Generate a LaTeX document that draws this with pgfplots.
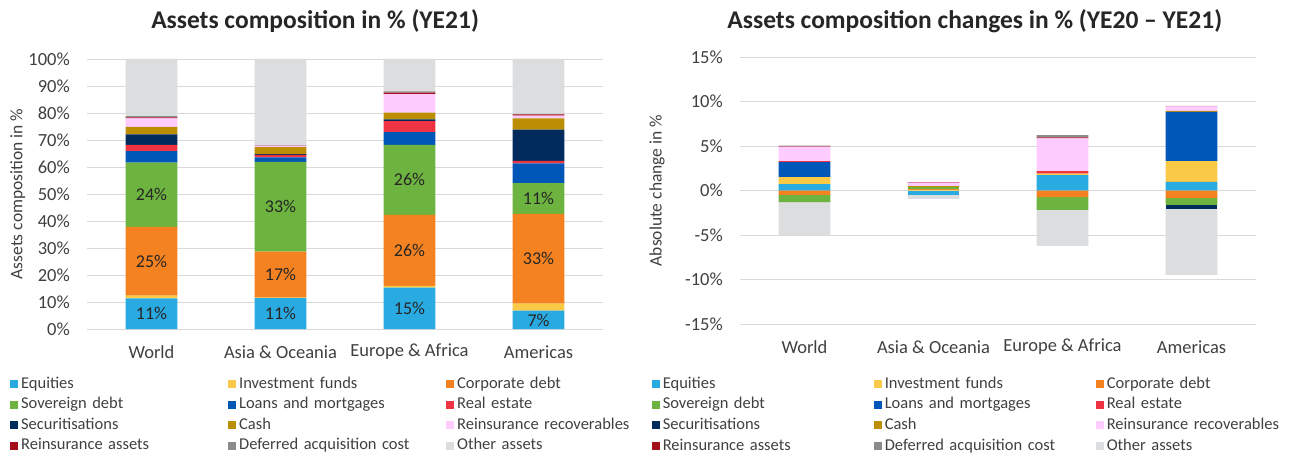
\documentclass[border=0pt]{standalone}
\usepackage{pgfplots}
\pgfplotsset{compat=1.18}
\usepackage{fontspec}
\setmainfont{Carlito}
\definecolor{cEq}{RGB}{41,170,225}
\definecolor{cIF}{RGB}{250,202,70}
\definecolor{cCorp}{RGB}{245,130,32}
\definecolor{cSov}{RGB}{109,179,63}
\definecolor{cLoan}{RGB}{0,87,184}
\definecolor{cRE}{RGB}{238,51,66}
\definecolor{cSec}{RGB}{0,43,92}
\definecolor{cCash}{RGB}{187,142,4}
\definecolor{cRec}{RGB}{255,204,255}
\definecolor{cRA}{RGB}{165,14,28}
\definecolor{cDAC}{RGB}{140,140,140}
\definecolor{cOth}{RGB}{220,221,223}
\definecolor{txt}{RGB}{64,64,64}
\newcommand\fs{\fontsize{16.5bp}{19bp}\selectfont}
\newcommand\tfs{\fontsize{18.5bp}{21bp}\selectfont}
\pgfplotsset{
  sq/.style={legend image code/.code={\fill[fill=#1] (0bp,-4bp) rectangle (8bp,4bp);}},
  base/.style={
    scale only axis, width=516bp, xmin=-0.5, xmax=3.5,
    xtick={0,1,2,3}, xticklabels={World, Asia \& Oceania, Europe \& Africa, Americas},
    axis line style={draw=none}, major tick length=0pt,
    ymajorgrids, grid style={color=black!15, line width=0.9bp},
    tick label style={font=\tfs, text=txt},
    xticklabel style={anchor=center, yshift=-23bp},
    yticklabel style={anchor=east, inner sep=0pt, xshift=-17bp},
    ybar stacked, bar width=0.4,
    every axis plot/.append style={draw=none, forget plot},
    legend columns=3, legend cell align=left,
    legend style={draw=none, fill=none, anchor=north west, inner sep=0pt, outer sep=0pt,
      column sep=0pt, row sep=0pt,
      nodes={font=\fs, text=txt, inner xsep=3bp, inner ysep=3.3bp, text height=11bp, text depth=3bp, text width=204bp, align=left}},
    clip=false,
  },
  overlay/.style={scale only axis, width=516bp, xmin=-0.5, xmax=3.5, hide axis, clip=false},
}
\newcommand\leg{%
  \addlegendimage{sq=cEq}\addlegendentry{Equities}
  \addlegendimage{sq=cIF}\addlegendentry{Investment funds}
  \addlegendimage{sq=cCorp}\addlegendentry{Corporate debt}
  \addlegendimage{sq=cSov}\addlegendentry{Sovereign debt}
  \addlegendimage{sq=cLoan}\addlegendentry{Loans and mortgages}
  \addlegendimage{sq=cRE}\addlegendentry{Real estate}
  \addlegendimage{sq=cSec}\addlegendentry{Securitisations}
  \addlegendimage{sq=cCash}\addlegendentry{Cash}
  \addlegendimage{sq=cRec}\addlegendentry{Reinsurance recoverables}
  \addlegendimage{sq=cRA}\addlegendentry{Reinsurance assets}
  \addlegendimage{sq=cDAC}\addlegendentry{Deferred acquisition cost}
  \addlegendimage{sq=cOth}\addlegendentry{Other assets}}
\begin{document}
\begin{tikzpicture}
\useasboundingbox (0,0) rectangle (1291bp,454bp);
% ---------------- left chart
\begin{axis}[base, at={(87bp,125bp)}, anchor=south west, height=270bp,
  ymin=0, ymax=100, ytick={0,10,...,100},
  yticklabel={\pgfmathparse{int(\tick)}\pgfmathresult\%},
  ylabel={Assets composition in \%},
  every axis y label/.style={at={(axis description cs:-0.134,0.5)}, rotate=90, anchor=center,
    font=\fontsize{17.5bp}{20bp}\selectfont, text=txt},
  title={Assets composition in \% (YE21)},
  every axis title/.style={at={(axis description cs:0.442,1.141)}, anchor=center,
    font=\bfseries\fontsize{25.5bp}{28bp}\selectfont, text=black!85},
  legend style={at={(axis description cs:-0.149,-0.166)}}]
\addplot[fill=cEq]   coordinates {(0,11.3) (1,11.4) (2,15.3) (3,6.8)};
\addplot[fill=cIF]   coordinates {(0,1.1) (1,0.2) (2,0.7) (3,2.6)};
\addplot[fill=cCorp] coordinates {(0,25.4) (1,17.1) (2,26.3) (3,33.2)};
\addplot[fill=cSov]  coordinates {(0,23.8) (1,33.2) (2,25.9) (3,11.4)};
\addplot[fill=cLoan] coordinates {(0,4.3) (1,1.7) (2,4.7) (3,7.3)};
\addplot[fill=cRE]   coordinates {(0,2.3) (1,0.9) (2,4.1) (3,1.0)};
\addplot[fill=cSec]  coordinates {(0,3.9) (1,0.3) (2,0.6) (3,11.5)};
\addplot[fill=cCash] coordinates {(0,2.8) (1,2.6) (2,2.5) (3,4.2)};
\addplot[fill=cRec]  coordinates {(0,3.1) (1,0.5) (2,6.9) (3,1.0)};
\addplot[fill=cRA]   coordinates {(0,0.4) (1,0.1) (2,0.5) (3,0.5)};
\addplot[fill=cDAC]  coordinates {(0,0.4) (1,0.1) (2,0.5) (3,0.2)};
\addplot[fill=cOth]  coordinates {(0,21.2) (1,31.9) (2,12.0) (3,20.3)};
\leg
\end{axis}
\begin{axis}[overlay, at={(87bp,125bp)}, anchor=south west, height=270bp, ymin=0, ymax=100]
\addplot[draw=none, mark=none, nodes near coords, point meta=explicit symbolic,
  every node near coord/.style={anchor=center, font=\fontsize{18bp}{20bp}\selectfont, text=black!85}]
  coordinates {(0,5.65)[11\%] (1,5.7)[11\%] (2,7.65)[15\%] (3,3.3)[7\%]
               (0,25.1)[25\%] (1,20.15)[17\%] (2,29.15)[26\%] (3,26.0)[33\%]
               (0,49.7)[24\%] (1,45.3)[33\%] (2,55.25)[26\%] (3,48.3)[11\%]};
\end{axis}
% ---------------- right chart
\begin{axis}[base, at={(740bp,130bp)}, anchor=south west, height=267bp,
  ymin=-15, ymax=15, ytick={-15,-10,...,15},
  yticklabel={\pgfmathparse{int(\tick)}\pgfmathresult\%},
  ylabel={Absolute change in \%},
  every axis y label/.style={at={(axis description cs:-0.161,0.5)}, rotate=90, anchor=center,
    font=\fontsize{17.5bp}{20bp}\selectfont, text=txt},
  title={Assets composition changes in \% (YE20 – YE21)},
  every axis title/.style={at={(axis description cs:0.455,1.135)}, anchor=center,
    font=\bfseries\fontsize{25.5bp}{28bp}\selectfont, text=black!85},
  legend style={at={(axis description cs:-0.171,-0.187)}, nodes={text width=208bp}}]
% negative parts (stacked downwards from zero)
\addplot[fill=cEq]   coordinates {(0,0) (1,-0.45) (2,0) (3,0)};
\addplot[fill=cCorp] coordinates {(0,-0.49) (1,0) (2,-0.75) (3,-0.86)};
\addplot[fill=cSov]  coordinates {(0,-0.82) (1,0) (2,-1.42) (3,-0.75)};
\addplot[fill=cSec]  coordinates {(0,0) (1,0) (2,0) (3,-0.45)};
\addplot[fill=cOth]  coordinates {(0,-3.74) (1,-0.48) (2,-4.06) (3,-7.42)};
% positive parts (stacked upwards from zero)
\addplot[fill=cEq]   coordinates {(0,0.71) (1,0) (2,1.72) (3,0.97)};
\addplot[fill=cIF]   coordinates {(0,0.79) (1,0.08) (2,0.19) (3,2.32)};
\addplot[fill=cCorp] coordinates {(0,0) (1,0.1) (2,0) (3,0)};
\addplot[fill=cSov]  coordinates {(0,0) (1,0.22) (2,0) (3,0)};
\addplot[fill=cLoan] coordinates {(0,1.69) (1,0) (2,0) (3,5.54)};
\addplot[fill=cRE]   coordinates {(0,0.11) (1,0) (2,0.26) (3,0)};
\addplot[fill=cCash] coordinates {(0,0) (1,0.1) (2,0) (3,0.11)};
\addplot[fill=cRec]  coordinates {(0,1.62) (1,0.38) (2,3.7) (3,0.52)};
\addplot[fill=cRA]   coordinates {(0,0.08) (1,0.05) (2,0.1) (3,0.02)};
\addplot[fill=cDAC]  coordinates {(0,0.05) (1,0) (2,0.26) (3,0.03)};
\leg
\end{axis}
\end{tikzpicture}
\end{document}
